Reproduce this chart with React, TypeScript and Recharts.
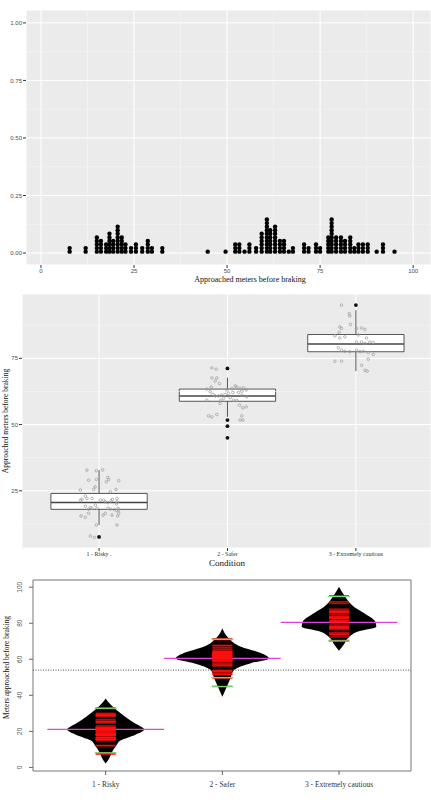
import React from 'react';
import {
  Area,
  CartesianGrid,
  ComposedChart,
  ReferenceArea,
  ReferenceLine,
  Scatter,
  ScatterChart,
  XAxis,
  YAxis,
} from 'recharts';

const SANS = 'Liberation Sans, Arial, sans-serif';
const SERIF = 'Liberation Serif, Times New Roman, serif';

// ---- top panel: dot plot of approached meters ----
const dotBins = [7.7, 12.0, 15.0, 16.1, 17.5, 18.4, 19.4, 20.6, 21.7, 22.7, 24.2, 25.5, 27.2, 28.7, 29.8, 32.6,
  44.8, 49.6, 52.2, 53.3, 54.7, 56.0, 57.8, 59.3, 60.7, 61.6, 62.9, 64.2, 65.3, 66.6, 67.7, 70.7, 71.9, 73.9, 75.0,
  77.2, 78.1, 79.3, 80.6, 81.7, 83.1, 84.2, 85.3, 86.5, 87.8, 90.2, 91.9, 95.0];
const dotCounts = [2, 2, 5, 4, 3, 6, 4, 8, 5, 3, 2, 3, 2, 4, 2, 2,
  1, 1, 3, 3, 1, 3, 2, 6, 10, 7, 8, 4, 4, 1, 2, 3, 2, 3, 2,
  5, 10, 5, 5, 4, 5, 2, 3, 3, 3, 1, 3, 1];
const dotXTicks = [0, 25, 50, 75, 100];
const dotYTicks = [0, 0.25, 0.5, 0.75, 1];
const dotXMinor = [12.5, 37.5, 62.5, 87.5];
const dotYMinor = [0.125, 0.375, 0.625, 0.875];
const DOT_BASE = 0.006;
const DOT_STEP = 0.0155;

// ---- middle panel: boxplot + jitter per condition ----
const conditions = ['1 - Risky .', '2 - Safer', '3 - Extremely cautious'];
const boxQ1 = [18.0, 58.8, 77.5];
const boxMedian = [20.6, 60.8, 80.4];
const boxQ3 = [24.0, 63.4, 84.0];
const whiskerLow = [12.1, 52.9, 70.2];
const whiskerHigh = [32.8, 67.7, 93.2];
const outliers = [[7.6], [71.2, 51.7, 49.4, 45.0], [95.1]];
const boxYTicks = [25, 50, 75];
const boxYMinor = [12.5, 37.5, 62.5, 87.5];

// [horizontal jitter, meters]
const riskyPoints: [number, number][] = [
  [-0.094, 32.8], [-0.021, 32.6], [0.028, 32.9], [0.068, 30.0], [0.057, 28.4], [0.075, 29.3], [0.153, 28.8],
  [-0.081, 29.0], [-0.021, 29.3], [-0.031, 26.5], [-0.042, 25.5], [0.088, 24.6], [0.132, 25.5], [-0.145, 25.3],
  [-0.107, 23.0], [-0.133, 21.8], [-0.094, 22.1], [-0.055, 22.1], [0.01, 21.5], [0.104, 21.8], [0.14, 22.1],
  [-0.145, 21.5], [-0.107, 19.2], [-0.068, 18.7], [-0.029, 19.6], [0.036, 21.5], [0.049, 20.8], [0.068, 20.5],
  [0.093, 21.2], [0.14, 20.8], [0.135, 20.0], [0.148, 18.4], [-0.081, 18.1], [-0.055, 18.4], [-0.016, 18.4],
  [0.07, 18.4], [0.088, 18.1], [0.12, 17.9], [0.14, 17.5], [0.153, 17.7], [-0.14, 15.5], [-0.107, 15.0],
  [-0.081, 16.5], [0.031, 15.8], [0.049, 16.5], [0.101, 15.8], [0.145, 15.5], [0.153, 16.5], [-0.021, 12.1],
  [0.14, 12.1], [-0.068, 7.9], [-0.037, 7.4],
];
const saferPoints: [number, number][] = [
  [-0.122, 71.4], [-0.088, 70.9], [-0.122, 67.6], [-0.083, 67.6], [-0.096, 66.4], [-0.062, 65.5], [-0.127, 64.2],
  [-0.161, 63.4], [-0.135, 62.4], [-0.114, 61.4], [-0.096, 60.8], [-0.07, 60.8], [-0.044, 61.1], [-0.018, 61.4],
  [0.008, 61.8], [0.034, 63.6], [0.06, 64.6], [0.073, 64.2], [0.099, 63.6], [0.125, 63.9], [0.146, 63.1],
  [0.112, 62.6], [0.086, 62.1], [0.042, 62.1], [-0.005, 63.1], [0.021, 60.1], [-0.031, 59.9], [-0.052, 59.2],
  [-0.161, 59.2], [0.112, 61.1], [0.151, 60.5], [0.073, 59.2], [0.047, 59.2], [-0.057, 58.0], [0.094, 57.3],
  [0.12, 56.3], [0.146, 56.7], [0.112, 53.3], [0.099, 51.7], [0.12, 51.7], [-0.122, 52.9], [-0.148, 53.3],
  [-0.083, 53.8],
];
const cautiousPoints: [number, number][] = [
  [-0.112, 95.1], [-0.052, 91.9], [-0.047, 91.0], [-0.042, 87.8], [-0.125, 86.9], [-0.112, 86.3], [0.005, 86.3],
  [0.044, 86.5], [0.07, 85.9], [-0.13, 84.8], [-0.164, 83.5], [-0.125, 82.7], [-0.086, 83.1], [0.018, 83.8],
  [0.083, 82.7], [0.044, 81.2], [0.005, 81.2], [0.109, 81.2], [0.135, 81.0], [0.07, 80.6], [-0.137, 79.0],
  [-0.112, 78.1], [-0.086, 77.7], [-0.047, 77.5], [0.005, 78.1], [0.031, 77.5], [0.057, 77.7], [0.096, 77.2],
  [0.135, 76.5], [-0.164, 73.9], [-0.112, 73.9], [0.096, 74.7], [0.044, 72.4], [0.07, 70.5], [0.088, 70.2],
];
const groupPoints = [riskyPoints, saferPoints, cautiousPoints];

// ---- bottom panel: bean plot ----
const beanMeans = [21.1, 60.5, 80.5];
const overallMean = 54;
const beanYTicks = [0, 20, 40, 60, 80, 100];
const greenMarks = [[32.8, 8.1], [71.1, 49.8, 44.8], [94.8, 70.2]];
const beanLevels = [
  [2.2, 5, 8, 12, 15, 18, 21, 24.5, 28, 32, 35, 38.3],
  [39.2, 45, 49.5, 54, 58, 60.5, 63.5, 67, 72, 77.2],
  [64.8, 68, 72, 75.5, 78, 81, 85, 89, 95, 100.3],
];
const beanHalfWidth = [
  [0, 0.03, 0.05, 0.09, 0.13, 0.25, 0.33, 0.25, 0.17, 0.09, 0.04, 0],
  [0, 0.04, 0.07, 0.1, 0.25, 0.4, 0.33, 0.16, 0.05, 0],
  [0, 0.04, 0.08, 0.17, 0.32, 0.31, 0.23, 0.13, 0.05, 0],
];

const dots = dotBins.flatMap((x, i) =>
  Array.from({ length: dotCounts[i] }, (_, k) => ({ x, y: DOT_BASE + k * DOT_STEP })));
const jitterData = groupPoints.flatMap((pts, g) => pts.map(([dx, v]) => ({ x: g + 1 + dx, y: v })));
const outlierData = outliers.flatMap((vals, g) => vals.map((v) => ({ x: g + 1, y: v })));
const beanData = beanLevels.map((lv, g) => lv.map((v, j) => ({
  v, range: [g + 1 - beanHalfWidth[g][j], g + 1 + beanHalfWidth[g][j]],
})));
const redLines = groupPoints.flatMap((pts, g) =>
  [...pts.map((p) => p[1]), ...outliers[g]].map((v) => ({ x: g + 1, v })));
const greenLines = greenMarks.flatMap((vals, g) => vals.map((v) => ({ x: g + 1, v })));

const BlackDot = (p: any) => <circle cx={p.cx} cy={p.cy} r={2.2} fill="#000" />;
const HollowDot = (p: any) => <circle cx={p.cx} cy={p.cy} r={1.3} fill="none" stroke="#9a9a9a" strokeWidth={0.7} />;
const OutDot = (p: any) => <circle cx={p.cx} cy={p.cy} r={1.9} fill="#111" />;
const RedBar = (p: any) => <rect x={p.cx - 10} y={p.cy - 0.8} width={20} height={1.6} fill="#ff1010" fillOpacity={0.7} />;
const GreenBar = (p: any) => <rect x={p.cx - 11} y={p.cy - 0.6} width={22} height={1.2} fill="#78dc78" />;

const BeanTick = (props: any) => {
  const { x, y, payload } = props;
  const bx = x - 5;
  return (
    <text x={bx} y={y} transform={`rotate(-90 ${bx} ${y})`} textAnchor="middle" fontSize={6.5} fill="#555" fontFamily={SANS}>
      {payload.value}
    </text>
  );
};

const sideTitle = (text: string, left: number, size: number, shift = 0) => (props: any) => {
  const vb = props.viewBox;
  const cx = left;
  const cy = vb.y + vb.height / 2 + shift;
  return (
    <text x={cx} y={cy} transform={`rotate(-90 ${cx} ${cy})`} textAnchor="middle" dominantBaseline="central"
      fontSize={size} fill="#111" fontFamily={SERIF}>
      {text}
    </text>
  );
};

const bottomTitle = (text: string, dx: number, dy: number, size: number) => (props: any) => {
  const vb = props.viewBox;
  return (
    <text x={vb.x + dx} y={vb.y + dy} textAnchor="middle" dominantBaseline="central" fontSize={size} fill="#111" fontFamily={SERIF}>
      {text}
    </text>
  );
};

const ggTick = { fontSize: 6, fill: '#4D4D4D', fontFamily: SANS };

export default function App() {
  return (
    <div style={{ position: 'absolute', left: 0, top: 0, width: 431, height: 806, background: '#fff', overflow: 'hidden' }}>
      <div style={{ position: 'absolute', left: 0, top: 0 }}>
        <ScatterChart width={431} height={290} margin={{ top: 10, right: 0, bottom: 5, left: 0 }}>
          <CartesianGrid fill="#EBEBEB" stroke="#FFFFFF" strokeWidth={1} />
          {dotXMinor.map((v) => <ReferenceLine key={'mx' + v} x={v} stroke="#F7F7F7" strokeWidth={0.6} />)}
          {dotYMinor.map((v) => <ReferenceLine key={'my' + v} y={v} stroke="#F7F7F7" strokeWidth={0.6} />)}
          <XAxis type="number" dataKey="x" domain={[-4.03, 104.8]} allowDataOverflow ticks={dotXTicks}
            tick={ggTick} tickLine={{ stroke: '#333' }} tickSize={3} tickMargin={1} axisLine={false} height={20}
            interval={0} label={bottomTitle('Approached meters before braking', 224, 14, 8)} />
          <YAxis type="number" dataKey="y" domain={[-0.052, 1.056]} allowDataOverflow ticks={dotYTicks}
            tickFormatter={(v: number) => v.toFixed(2)} tick={ggTick} tickLine={{ stroke: '#333' }} tickSize={3}
            tickMargin={1} axisLine={false} width={26} interval={0} />
          <Scatter data={dots} shape={BlackDot} isAnimationActive={false} />
        </ScatterChart>
      </div>

      <div style={{ position: 'absolute', left: 0, top: 282 }}>
        <ScatterChart width={431} height={288} margin={{ top: 12, right: 0, bottom: 2, left: 0 }}>
          <CartesianGrid fill="#EBEBEB" stroke="#FFFFFF" strokeWidth={1} />
          {boxYMinor.map((v) => <ReferenceLine key={'by' + v} y={v} stroke="#F7F7F7" strokeWidth={0.6} />)}
          <XAxis type="number" dataKey="x" domain={[0.4, 3.585]} allowDataOverflow ticks={[1, 2, 3]}
            tickFormatter={(v: number) => conditions[v - 1]} interval={0}
            tick={{ fontSize: 6, fill: '#333', fontFamily: SERIF }} tickLine={{ stroke: '#333' }} tickSize={3}
            tickMargin={1} axisLine={false} height={20} label={bottomTitle('Condition', 205, 15, 9)} />
          <YAxis type="number" dataKey="y" domain={[3.4, 99.3]} allowDataOverflow ticks={boxYTicks} interval={0}
            tick={ggTick} tickLine={{ stroke: '#333' }} tickSize={3} tickMargin={1} axisLine={false} width={22}
            label={sideTitle('Approached meters before braking', 5, 7.5)} />
          {conditions.map((c, i) => (
            <ReferenceLine key={'wh' + c} segment={[{ x: i + 1, y: boxQ3[i] }, { x: i + 1, y: whiskerHigh[i] }]} stroke="#444" strokeWidth={0.9} />
          ))}
          {conditions.map((c, i) => (
            <ReferenceLine key={'wl' + c} segment={[{ x: i + 1, y: whiskerLow[i] }, { x: i + 1, y: boxQ1[i] }]} stroke="#444" strokeWidth={0.9} />
          ))}
          {conditions.map((c, i) => (
            <ReferenceArea key={'bx' + c} x1={i + 1 - 0.375} x2={i + 1 + 0.375} y1={boxQ1[i]} y2={boxQ3[i]}
              fill="#FFFFFF" fillOpacity={1} stroke="#444" strokeWidth={0.9} />
          ))}
          {conditions.map((c, i) => (
            <ReferenceLine key={'md' + c} segment={[{ x: i + 1 - 0.375, y: boxMedian[i] }, { x: i + 1 + 0.375, y: boxMedian[i] }]}
              stroke="#444" strokeWidth={1.6} />
          ))}
          <Scatter data={jitterData} shape={HollowDot} isAnimationActive={false} />
          <Scatter data={outlierData} shape={OutDot} isAnimationActive={false} />
        </ScatterChart>
      </div>

      <div style={{ position: 'absolute', left: 0, top: 570 }}>
        <ComposedChart layout="vertical" width={431} height={236} margin={{ top: 10, right: 20, bottom: 5, left: 0 }}>
          <XAxis type="number" domain={[0.377, 3.617]} allowDataOverflow ticks={[1, 2, 3]}
            tickFormatter={(v: number) => conditions[v - 1].replace(' .', '')} interval={0}
            tick={{ fontSize: 7.5, fill: '#333', fontFamily: SERIF }} tickLine={{ stroke: '#666' }} tickSize={4}
            tickMargin={7} axisLine={false} height={30} />
          <YAxis type="number" dataKey="v" domain={[-2, 104]} allowDataOverflow reversed ticks={beanYTicks} interval={0}
            tick={<BeanTick />} tickLine={{ stroke: '#666' }} tickSize={4} axisLine={false} width={33}
            label={sideTitle('Meters approached before braking', 6, 7.5, -8)} />
          <ReferenceArea x1={0.377} x2={3.617} y1={-2} y2={104} fill="none" stroke="#777" strokeWidth={1} />
          <ReferenceLine y={overallMean} stroke="#555" strokeDasharray="1 1.5" />
          {beanData.map((rows, g) => (
            <Area key={'bean' + g} data={rows} dataKey="range" type="monotone" fill="#000" fillOpacity={1}
              stroke="none" isAnimationActive={false} />
          ))}
          <Scatter data={redLines} dataKey="x" shape={RedBar} isAnimationActive={false} />
          <Scatter data={greenLines} dataKey="x" shape={GreenBar} isAnimationActive={false} />
          {beanMeans.map((m, i) => (
            <ReferenceLine key={'mean' + i} segment={[{ x: i + 0.5, y: m }, { x: i + 1.5, y: m }]} stroke="#e040e0" strokeWidth={1.3} />
          ))}
        </ComposedChart>
      </div>
    </div>
  );
}
